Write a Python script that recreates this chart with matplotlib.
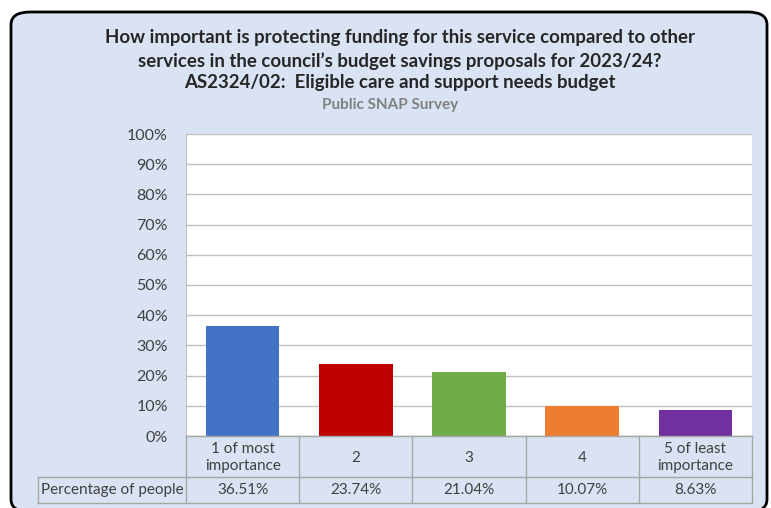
import matplotlib.pyplot as plt
from matplotlib.patches import FancyBboxPatch
from matplotlib.lines import Line2D

# Data
categories = ['1 of most\nimportance', '2', '3', '4', '5 of least\nimportance']
values = [36.51, 23.74, 21.04, 10.07, 8.63]
value_labels = ['36.51%', '23.74%', '21.04%', '10.07%', '8.63%']
colors = ['#4472c4', '#c00000', '#70ad47', '#ed7d31', '#7030a0']
row_label = 'Percentage of people'
title_lines = ['How important is protecting funding for this service compared to other',
               'services in the council\u2019s budget savings proposals for 2023/24?',
               'AS2324/02:  Eligible care and support needs budget']
subtitle = 'Public SNAP Survey'

W, H = 771, 508
plt.rcParams['font.family'] = ['Lato', 'DejaVu Sans']

fig = plt.figure(figsize=(W / 100, H / 100), dpi=100)


def fx(x):
    return x / W


def fy(y):
    return 1 - y / H


# Background card
card = FancyBboxPatch((fx(11), fy(512)), fx(756), (512 - 12) / H,
                      boxstyle='round,pad=0,rounding_size=0.025',
                      facecolor='#dae3f3', edgecolor='black', linewidth=2,
                      transform=fig.transFigure, zorder=-1)
fig.patches.append(card)

# Titles
ys = [38, 61, 83]
for line, y in zip(title_lines, ys):
    fig.text(fx(400), fy(y), line, ha='center', va='center', fontsize=13.4,
             fontweight='bold', color='#262626')
fig.text(fx(390), fy(105), subtitle, ha='center', va='center', fontsize=11,
         fontweight='bold', color='#808080')

# Plot area
left, right, top, bottom = 186, 752, 134, 436
ax = fig.add_axes([fx(left), fy(bottom), fx(right - left), (bottom - top) / H])
ax.set_facecolor('white')
x = range(len(values))
ax.bar(x, values, width=0.65, color=colors, zorder=3)
ax.set_xlim(-0.5, len(values) - 0.5)
ax.set_ylim(0, 100)
ax.set_yticks(range(0, 101, 10))
ax.set_yticklabels([f'{t}%' for t in range(0, 101, 10)], fontsize=11.5, color='#404040')
ax.yaxis.grid(True, color='#bfbfbf', linewidth=1, zorder=0)
ax.tick_params(axis='y', length=0, pad=13)
ax.set_xticks([])
for s in ['top', 'right']:
    ax.spines[s].set_visible(False)
ax.spines['left'].set_color('#bfbfbf')
ax.spines['bottom'].set_color('#a6a6a6')

# Data table under the axes
col_w = (right - left) / len(values)
row1, row2 = 477, 503
grid_col = '#a6a6a6'


def hline(x0, x1, y):
    fig.add_artist(Line2D([fx(x0), fx(x1)], [fy(y), fy(y)], color=grid_col, linewidth=1))


def vline(x, y0, y1):
    fig.add_artist(Line2D([fx(x), fx(x)], [fy(y0), fy(y1)], color=grid_col, linewidth=1))


hline(left, right, bottom)
hline(38, right, row1)
hline(38, right, row2)
vline(38, row1, row2)
for i in range(len(values) + 1):
    vline(left + i * col_w, bottom, row2)

for i, (cat, lab) in enumerate(zip(categories, value_labels)):
    cx = left + (i + 0.5) * col_w
    fig.text(fx(cx), fy((bottom + row1) / 2 + 1), cat, ha='center', va='center',
             fontsize=11, color='#404040', linespacing=1.35)
    fig.text(fx(cx), fy((row1 + row2) / 2), lab, ha='center', va='center',
             fontsize=11, color='#404040')
fig.text(fx(112), fy((row1 + row2) / 2), row_label, ha='center', va='center',
         fontsize=11, color='#404040')

fig.savefig('out.png', dpi=100)
